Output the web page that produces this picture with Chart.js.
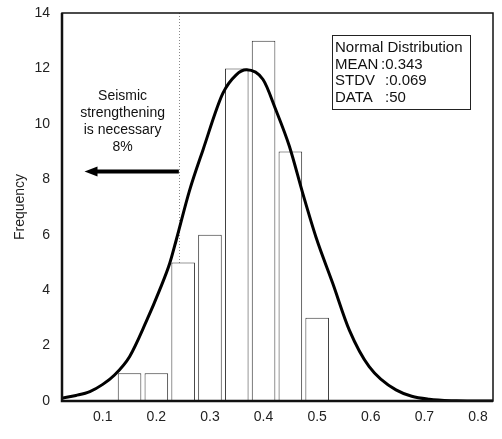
<!DOCTYPE html>
<html>
<head>
<meta charset="utf-8">
<script src="https://cdn.jsdelivr.net/npm/chart.js@4/dist/chart.umd.min.js"></script>
<style>
  html, body { margin: 0; padding: 0; background: #fff; }
  #wrap { width: 502px; height: 439px; }
</style>
</head>
<body>
<div id="wrap"><canvas id="chart" width="502" height="439"></canvas></div>
<script>
// histogram bins (class centres) and counts
const binCentres = [0.15, 0.20, 0.25, 0.30, 0.35, 0.40, 0.45, 0.50];
const binCounts = [1, 1, 5, 6, 12, 13, 9, 3];

// fitted curve
const curveX = [0.024, 0.05, 0.076, 0.10, 0.122, 0.15, 0.181, 0.206, 0.225, 0.237, 0.262, 0.287,
                0.324, 0.349, 0.368, 0.399, 0.423, 0.448, 0.473, 0.498, 0.529, 0.56, 0.597,
                0.647, 0.709, 0.76, 0.828];
const curveY = [0.1, 0.2, 0.34, 0.6, 0.94, 1.6, 2.86, 4.0, 4.97, 5.8, 7.6, 9.06,
                11.1, 11.77, 11.95, 11.6, 10.5, 9.2, 7.5, 5.9, 4.25, 2.56, 1.24,
                0.4, 0.06, 0.01, 0];

const xTicks = [0.1, 0.2, 0.3, 0.4, 0.5, 0.6, 0.7, 0.8];
const yTicks = [0, 2, 4, 6, 8, 10, 12, 14];

const statLines = [['Normal Distribution', ''], ['MEAN', ':0.343'], ['STDV', ':0.069'], ['DATA', ':50']];
const noteLines = ['Seismic', 'strengthening', 'is necessary', '8%'];
const limitValue = 0.242;

const FONT = '"Liberation Sans", Arial, sans-serif';

const decorations = {
    id: 'decorations',
    beforeDatasetsDraw(chart) {
        const { ctx, chartArea: a, scales: { x } } = chart;
        // dotted limit line
        ctx.save();
        ctx.strokeStyle = '#888';
        ctx.lineWidth = 1;
        ctx.setLineDash([1, 2]);
        const lx = Math.round(x.getPixelForValue(limitValue)) + 0.5;
        ctx.beginPath();
        ctx.moveTo(lx, a.top);
        ctx.lineTo(lx, a.bottom);
        ctx.stroke();
        ctx.restore();
    },
    afterDatasetsDraw(chart) {
        const { ctx, chartArea: a, scales: { x, y } } = chart;
        ctx.save();
        // frame
        ctx.strokeStyle = '#111';
        ctx.lineWidth = 1.5;
        ctx.strokeRect(a.left, a.top, a.right - a.left, a.bottom - a.top);
        ctx.lineWidth = 2.5;
        ctx.beginPath();
        ctx.moveTo(a.left, a.top);
        ctx.lineTo(a.left, a.bottom);
        ctx.lineTo(a.right, a.bottom);
        ctx.stroke();

        // arrow
        const ay = y.getPixelForValue(8.28);
        const ax0 = x.getPixelForValue(limitValue);
        const ax1 = x.getPixelForValue(0.066);
        ctx.fillStyle = '#000';
        ctx.strokeStyle = '#000';
        ctx.lineWidth = 4;
        ctx.beginPath();
        ctx.moveTo(ax0, ay);
        ctx.lineTo(ax1 + 10, ay);
        ctx.stroke();
        ctx.beginPath();
        ctx.moveTo(ax1, ay);
        ctx.lineTo(ax1 + 13, ay - 5);
        ctx.lineTo(ax1 + 13, ay + 5);
        ctx.closePath();
        ctx.fill();

        // note text
        ctx.font = '14px ' + FONT;
        ctx.fillStyle = '#111';
        ctx.textAlign = 'center';
        ctx.textBaseline = 'middle';
        const nx = x.getPixelForValue(0.137);
        noteLines.forEach((t, i) => ctx.fillText(t, nx, y.getPixelForValue(11.0 - i * 0.615)));

        // stats box
        const bx = a.left + 270, by = a.top + 22, bw = 138, bh = 74;
        ctx.fillStyle = '#fff';
        ctx.fillRect(bx, by, bw, bh);
        ctx.strokeStyle = '#222';
        ctx.lineWidth = 1;
        ctx.strokeRect(bx + 0.5, by + 0.5, bw, bh);
        ctx.font = '15px ' + FONT;
        ctx.fillStyle = '#111';
        ctx.textAlign = 'left';
        statLines.forEach(([k, v], i) => {
            const ty = by + 13 + i * 16.5;
            ctx.fillText(k, bx + 3, ty);
            if (v) ctx.fillText(v, bx + (i === 1 ? 49 : 53), ty);
        });
        ctx.restore();
    }
};

new Chart(document.getElementById('chart'), {
    data: {
        datasets: [
            {
                type: 'line',
                label: 'Normal',
                data: curveX.map((v, i) => ({ x: v, y: curveY[i] })),
                borderColor: '#000',
                borderWidth: 3,
                pointRadius: 0,
                cubicInterpolationMode: 'monotone',
                fill: false,
                order: 0
            },
            {
                type: 'bar',
                label: 'Frequency',
                data: binCentres.map((v, i) => ({ x: v, y: binCounts[i] })),
                backgroundColor: '#fff',
                borderColor: '#333',
                borderWidth: 1,
                barPercentage: 0.88,
                categoryPercentage: 1,
                order: 1
            }
        ]
    },
    options: {
        responsive: false,
        animation: false,
        layout: { padding: { left: 0, right: 9, top: 13, bottom: 0 } },
        plugins: {
            legend: { display: false },
            tooltip: { enabled: false }
        },
        scales: {
            x: {
                type: 'linear',
                offset: false,
                min: 0.024,
                max: 0.828,
                afterBuildTicks: s => { s.ticks = xTicks.map(v => ({ value: v })); },
                afterFit: s => { s.height = 38; s.paddingLeft = 0; s.paddingRight = 0; },
                grid: { display: false, drawTicks: false, offset: false },
                border: { display: false },
                ticks: {
                    padding: 8,
                    color: '#222',
                    font: { family: FONT, size: 14 },
                    callback: v => v.toFixed(1)
                }
            },
            y: {
                min: 0,
                max: 14,
                afterBuildTicks: s => { s.ticks = yTicks.map(v => ({ value: v })); },
                afterFit: s => { s.width = 62; s.paddingTop = 0; s.paddingBottom = 0; },
                grid: { display: false, drawTicks: false },
                border: { display: false },
                title: {
                    display: true,
                    text: 'Frequency',
                    color: '#222',
                    font: { family: FONT, size: 14 },
                    padding: { top: 12, bottom: 4 }
                },
                ticks: {
                    padding: 12,
                    color: '#222',
                    font: { family: FONT, size: 14 }
                }
            }
        }
    },
    plugins: [decorations]
});
</script>
</body>
</html>
